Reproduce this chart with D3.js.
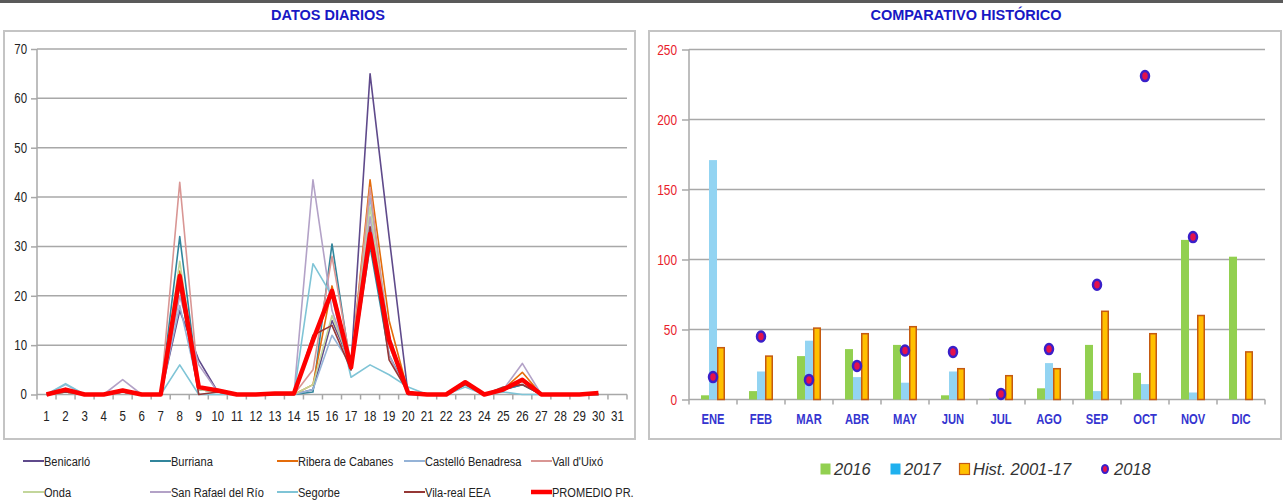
<!DOCTYPE html>
<html>
<head>
<meta charset="utf-8">
<script src="https://cdn.jsdelivr.net/npm/d3@7/dist/d3.min.js"></script>
<style>
	body { margin: 0; background: #fff; }
	svg text { font-family: "Liberation Sans", Arial, sans-serif; }
	.title { font-weight: bold; font-size: 14.5px; fill: #1818c4; }
	.axis path { display: none; }
</style>
</head>
<body>
<script>
// Days of the month for the daily chart
var days = d3.range(1, 32);

// Daily rainfall per station (days 1-30)
var benicarlo  = [0,0.5,0,0,0.5,0,0,17,7,0.5,0,0,0,0,1,15,6,65,32,0,0,0,2,0,1,2,0,0,0,0];
var burriana   = [0,1,0,0,0.5,0,0,32,1,0.5,0,0,0,0,0.5,30.5,5,30,8,0.5,0,0,2,0,1,2,0,0,0,0];
var ribera     = [0,0.5,0,0,0.5,0,0,25,1,0.5,0,0,0,0,2,22,6,43.5,15,0.5,0,0,2.5,0,1,4.5,0,0,0,0];
var castello   = [0,2,0,0,1,0,0,18,1,0.5,0,0,0,0,1,12,6,40,12,0,0,0,2,0,1,3,0,0,0,0];
var vallduixo  = [0,0.5,0,0,0.5,0,0,43,1.5,1,0,0,0,0,5,28,6,42,10,0.5,0,0,2.5,0,1,3,0,0,0,0];
var onda       = [0,0.5,0,0,0.5,0,0,27,1,0.5,0,0,0,0,2,16,6,38,10,0.5,0,0,2,0,1,3,0,0,0,0];
var sanrafael  = [0,1,0,0,3,0,0,20,6,0.5,0,0,0,0,43.5,17,6,36,8,0,0,0,2,0,1,6.3,0,0,0,0];
var segorbe    = [0,2.2,0,0,0.5,0,0,6,0,0,0,0,0,0,26.5,20,3.5,6,4,1.5,0,0,1.5,0,0.5,0,0,0,0,0];
var vilareal   = [0,0.5,0,0,0.5,0,0,22,0,0.5,0,0,0,0,12,14,5,34,7,0.5,0,0,2,0,1.5,2,0,0,0,0];
var promedio   = [0,1,0,0,0.8,0,0,24,1.5,0.8,0,0,0.2,0.2,11,21,5.5,32.5,11,0.3,0,0,2.5,0,1,3,0,0,0,0.3];

var stationNames = ["Benicarló","Burriana","Ribera de Cabanes","Castelló Benadresa","Vall d'Uixó",
					"Onda","San Rafael del Río","Segorbe","Vila-real EEA","PROMEDIO PR."];
var stationValues = [benicarlo, burriana, ribera, castello, vallduixo, onda, sanrafael, segorbe, vilareal, promedio];
var stationColors = ["#5f4a8b","#31859c","#e46c0a","#95b3d7","#d99694",
					 "#c3d69b","#b3a2c7","#7fc4d6","#953735","#ff0000"];

// Monthly comparison
var months = ["ENE","FEB","MAR","ABR","MAY","JUN","JUL","AGO","SEP","OCT","NOV","DIC"];
var y2016 = [3,6,31,36,39,3,0.5,8,39,19,114,102];
var y2017 = [171,20,42,16,12,20,1,26,6,11,5,0];
var hist  = [37,31,51,47,52,22,17,22,63,47,60,34];
var y2018 = [16,45,14,24,35,34,4,36,82,231,116,null];

var dailyTicks = [0,10,20,30,40,50,60,70];
var monthTicks = [0,50,100,150,200,250];

// horizontal squeeze to mimic the narrow font of the original
var narrow = 0.82;

var svg = d3.select("body")
			.append("svg")
			.attr("width", 1283)
			.attr("height", 504);

// Top dark rule
svg.append("line")
	.attr("x1", 0).attr("x2", 1283)
	.attr("y1", 1.5).attr("y2", 1.5)
	.style("stroke", "#5a5a5a")
	.style("stroke-width", 3);

/******** LEFT: DATOS DIARIOS ************/
svg.append("text").attr("class", "title")
	.attr("x", 328).attr("y", 20)
	.attr("text-anchor", "middle")
	.text("DATOS DIARIOS");

svg.append("rect")
	.attr("x", 4).attr("y", 31)
	.attr("width", 631).attr("height", 408)
	.style("fill", "none")
	.style("stroke", "#c4c4c4")
	.style("stroke-width", 2);

var xDay = d3.scaleBand()
			.domain(days)
			.range([37, 627]);

var yDay = d3.scaleLinear()
			.domain([0, 70])
			.range([394.5, 49]);

var left = svg.append("g");

// gridlines
left.selectAll(".grid")
	.data(dailyTicks)
	.enter()
	.append("line")
	.attr("x1", 37).attr("x2", 627)
	.attr("y1", function(d) { return yDay(d); })
	.attr("y2", function(d) { return yDay(d); })
	.style("stroke", "#a8a8a8")
	.style("stroke-width", 1.5);

// y axis line
left.append("line")
	.attr("x1", 37).attr("x2", 37)
	.attr("y1", yDay(70)).attr("y2", yDay(0))
	.style("stroke", "#a8a8a8")
	.style("stroke-width", 1.5);

left.append("g")
	.attr("class", "axis")
	.attr("transform", "translate(37,0)")
	.call(d3.axisLeft(yDay).tickValues(dailyTicks).tickSize(6).tickPadding(4))
	.call(function(g) {
		g.selectAll("line").style("stroke", "#a8a8a8").style("stroke-width", 1.5);
		g.selectAll("text")
			.attr("x", -10 / narrow)
			.attr("transform", "scale(" + narrow + ",1)")
			.style("font-size", "14px").style("fill", "#222");
	});

// x axis boundary ticks
left.selectAll(".xtick")
	.data(days.concat([32]))
	.enter()
	.append("line")
	.attr("x1", function(d) { return d == 32 ? 627 : xDay(d); })
	.attr("x2", function(d) { return d == 32 ? 627 : xDay(d); })
	.attr("y1", yDay(0)).attr("y2", yDay(0) + 5)
	.style("stroke", "#a8a8a8")
	.style("stroke-width", 1.5);

left.append("g")
	.attr("class", "axis")
	.attr("transform", "translate(0," + yDay(0) + ")")
	.call(d3.axisBottom(xDay).tickSize(0).tickPadding(17))
	.call(function(g) {
		g.selectAll("text")
			.attr("transform", "scale(" + narrow + ",1)")
			.style("font-size", "14px").style("fill", "#222");
	});

var line = d3.line()
	.x(function(d, i) { return xDay(i + 1) + xDay.bandwidth() / 2; })
	.y(function(d) { return yDay(d); });

left.selectAll(".series")
	.data(stationValues)
	.enter()
	.append("path")
	.attr("d", line)
	.style("fill", "none")
	.style("stroke", function(d, i) { return stationColors[i]; })
	.style("stroke-width", function(d, i) { return i == 9 ? 4.5 : 1.6; })
	.style("stroke-linejoin", "round");

// legend
var legLeft = left.selectAll(".leg")
	.data(stationNames)
	.enter()
	.append("g")
	.attr("transform", function(d, i) {
		return "translate(" + (23 + (i % 5) * 127) + "," + (461 + Math.floor(i / 5) * 31) + ")";
	});

legLeft.append("line")
	.attr("x1", 0).attr("x2", 21)
	.style("stroke", function(d, i) { return stationColors[i]; })
	.style("stroke-width", function(d, i) { return i == 9 ? 4.5 : 2; });

legLeft.append("text")
	.attr("x", 21 / narrow).attr("dy", "0.35em")
	.attr("transform", "scale(" + narrow + ",1)")
	.style("font-size", "13.5px")
	.style("fill", "#222")
	.text(function(d) { return d; });

/******** RIGHT: COMPARATIVO HISTORICO ************/
svg.append("text").attr("class", "title")
	.attr("x", 966).attr("y", 20)
	.attr("text-anchor", "middle")
	.text("COMPARATIVO HISTÓRICO");

svg.append("rect")
	.attr("x", 649).attr("y", 31)
	.attr("width", 632).attr("height", 408)
	.style("fill", "none")
	.style("stroke", "#c4c4c4")
	.style("stroke-width", 2);

var xMonth = d3.scaleBand()
			.domain(months)
			.range([689, 1265]);

var yMonth = d3.scaleLinear()
			.domain([0, 250])
			.range([399.5, 49.5]);

var right = svg.append("g");

right.selectAll(".grid")
	.data(monthTicks)
	.enter()
	.append("line")
	.attr("x1", 689).attr("x2", 1265)
	.attr("y1", function(d) { return yMonth(d); })
	.attr("y2", function(d) { return yMonth(d); })
	.style("stroke", "#a8a8a8")
	.style("stroke-width", 1.5);

right.append("line")
	.attr("x1", 689).attr("x2", 689)
	.attr("y1", yMonth(250)).attr("y2", yMonth(0))
	.style("stroke", "#a8a8a8")
	.style("stroke-width", 1.5);

right.append("g")
	.attr("class", "axis")
	.attr("transform", "translate(689,0)")
	.call(d3.axisLeft(yMonth).tickValues(monthTicks).tickSize(7).tickPadding(5))
	.call(function(g) {
		g.selectAll("line").style("stroke", "#a8a8a8").style("stroke-width", 1.5);
		g.selectAll("text")
			.attr("x", -12 / narrow)
			.attr("transform", "scale(" + narrow + ",1)")
			.style("font-size", "14.5px").style("fill", "#e8202a");
	});

right.selectAll(".xtick")
	.data(months.concat(["end"]))
	.enter()
	.append("line")
	.attr("x1", function(d) { return d == "end" ? 1265 : xMonth(d); })
	.attr("x2", function(d) { return d == "end" ? 1265 : xMonth(d); })
	.attr("y1", yMonth(0)).attr("y2", yMonth(0) + 5)
	.style("stroke", "#a8a8a8")
	.style("stroke-width", 1.5);

right.append("g")
	.attr("class", "axis")
	.attr("transform", "translate(0," + yMonth(0) + ")")
	.call(d3.axisBottom(xMonth).tickSize(0).tickPadding(15))
	.call(function(g) {
		g.selectAll("text")
			.attr("transform", "scale(0.8,1)")
			.style("font-size", "14px").style("font-weight", "bold").style("fill", "#3535d0");
	});

// bars: 2016, 2017, hist
var barW = 8;
var barSeries = [
	{ values: y2016, offset: -12, fill: "#92d050", stroke: "none" },
	{ values: y2017, offset: -4, fill: "#93d4f2", stroke: "none" },
	{ values: hist, offset: 4, fill: "#ffc000", stroke: "#c55a11" }
];

barSeries.forEach(function(s) {
	right.selectAll(null)
		.data(s.values)
		.enter()
		.append("rect")
		.attr("x", function(d, i) { return xMonth(months[i]) + xMonth.bandwidth() / 2 + s.offset + (s.stroke == "none" ? 0 : 0.75); })
		.attr("y", function(d) { return yMonth(d); })
		.attr("width", s.stroke == "none" ? barW : barW - 1.5)
		.attr("height", function(d) { return yMonth(0) - yMonth(d); })
		.style("fill", s.fill)
		.style("stroke", s.stroke)
		.style("stroke-width", 1.5);
});

// 2018 dots
right.selectAll(".dot")
	.data(y2018.filter(function(d) { return d != null; }))
	.enter()
	.append("ellipse")
	.attr("cx", function(d, i) { return xMonth(months[i]) + xMonth.bandwidth() / 2; })
	.attr("cy", function(d) { return yMonth(d); })
	.attr("rx", 4).attr("ry", 5)
	.style("fill", "#e3124c")
	.style("stroke", "#3a1fc9")
	.style("stroke-width", 2.5);

// legend
var legItems = [
	{ label: "2016", x: 820, fill: "#92d050", stroke: "none", dot: false },
	{ label: "2017", x: 890, fill: "#1fb0ee", stroke: "none", dot: false },
	{ label: "Hist. 2001-17", x: 959, fill: "#ffc000", stroke: "#c55a11", dot: false },
	{ label: "2018", x: 1100, fill: "#e3124c", stroke: "#3a1fc9", dot: true }
];

var legRight = right.selectAll(".leg")
	.data(legItems)
	.enter()
	.append("g")
	.attr("transform", function(d) { return "translate(" + d.x + ",469)"; });

legRight.each(function(d) {
	var g = d3.select(this);
	if (d.dot) {
		g.append("ellipse")
			.attr("cx", 5).attr("cy", 0)
			.attr("rx", 3).attr("ry", 4)
			.style("fill", d.fill)
			.style("stroke", d.stroke)
			.style("stroke-width", 2);
	} else {
		g.append("rect")
			.attr("x", 0.5).attr("y", -5.5)
			.attr("width", 10).attr("height", 11)
			.style("fill", d.fill)
			.style("stroke", d.stroke)
			.style("stroke-width", 1.2);
	}
});

legRight.append("text")
	.attr("x", 14).attr("dy", "0.35em")
	.style("font-style", "italic")
	.style("font-size", "16.5px")
	.style("fill", "#333")
	.text(function(d) { return d.label; });
</script>
</body>
</html>
